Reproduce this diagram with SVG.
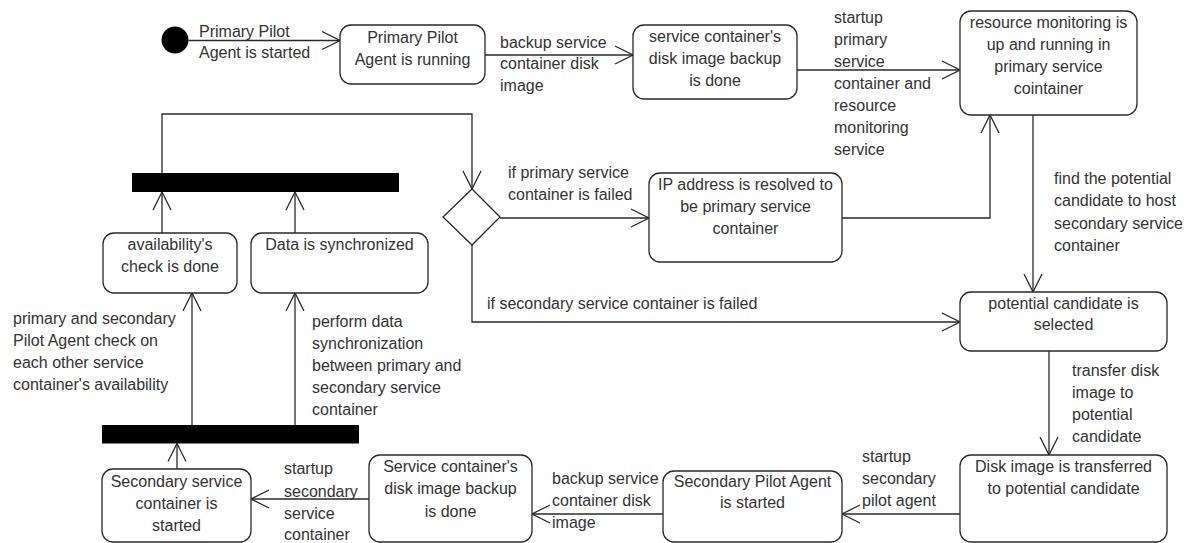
<svg xmlns="http://www.w3.org/2000/svg" width="1189" height="543" viewBox="0 0 1189 543">
<style>
.n{fill:#fff;stroke:#2a2a2a;stroke-width:1.3}
.bar{fill:#000;stroke:none}
.e{fill:none;stroke:#2a2a2a;stroke-width:1.3}
text{font-family:"Liberation Sans",Arial,sans-serif;font-size:16px;fill:#333}
.c{text-anchor:middle}
</style>
<defs>
<marker id="arr" viewBox="0 0 20 20" refX="19" refY="10" markerWidth="20" markerHeight="20" markerUnits="userSpaceOnUse" orient="auto">
<path d="M1,1 L19,10 L1,19" fill="none" stroke="#2a2a2a" stroke-width="1.3"/>
</marker>
</defs>
<rect width="1189" height="543" fill="#fff"/>

<g id="connectors">
<line class="e" x1="188.5" y1="40.5" x2="340" y2="40.5" marker-end="url(#arr)"/>
<line class="e" x1="485" y1="55" x2="633" y2="55" marker-end="url(#arr)"/>
<line class="e" x1="797" y1="70" x2="960" y2="70" marker-end="url(#arr)"/>
<line class="e" x1="1033" y1="115" x2="1033" y2="292" marker-end="url(#arr)"/>
<line class="e" x1="1049" y1="351" x2="1049" y2="455" marker-end="url(#arr)"/>
<line class="e" x1="960" y1="514" x2="842" y2="514" marker-end="url(#arr)"/>
<line class="e" x1="663" y1="514" x2="532" y2="514" marker-end="url(#arr)"/>
<line class="e" x1="369" y1="499" x2="251" y2="499" marker-end="url(#arr)"/>
<line class="e" x1="177" y1="469" x2="177" y2="443.5" marker-end="url(#arr)"/>
<line class="e" x1="192" y1="425" x2="192" y2="293" marker-end="url(#arr)"/>
<line class="e" x1="295" y1="425" x2="295" y2="293" marker-end="url(#arr)"/>
<line class="e" x1="162" y1="233" x2="162" y2="192" marker-end="url(#arr)"/>
<line class="e" x1="295" y1="233" x2="295" y2="192" marker-end="url(#arr)"/>
<polyline class="e" points="162,173 162,114 472,114 472,189" marker-end="url(#arr)"/>
<line class="e" x1="500" y1="218" x2="649" y2="218" marker-end="url(#arr)"/>
<polyline class="e" points="842,218 990,218 990,115" marker-end="url(#arr)"/>
<polyline class="e" points="472,245 472,322 960,322" marker-end="url(#arr)"/>

<text x="199" y="37">Primary Pilot</text>
<text x="199" y="58">Agent is started</text>
<text x="500" y="48">backup service</text>
<text x="500" y="69">container disk</text>
<text x="500" y="91">image</text>
<text x="834" y="23">startup</text>
<text x="834" y="45">primary</text>
<text x="834" y="67">service</text>
<text x="834" y="89">container and</text>
<text x="834" y="111">resource</text>
<text x="834" y="133">monitoring</text>
<text x="834" y="155">service</text>
<text x="1054" y="184">find the potential</text>
<text x="1054" y="206">candidate to host</text>
<text x="1054" y="229">secondary service</text>
<text x="1054" y="251">container</text>
<text x="1072" y="376">transfer disk</text>
<text x="1072" y="398">image to</text>
<text x="1072" y="420">potential</text>
<text x="1072" y="442">candidate</text>
<text x="862" y="462">startup</text>
<text x="862" y="484">secondary</text>
<text x="862" y="506">pilot agent</text>
<text x="552" y="484">backup service</text>
<text x="552" y="506">container disk</text>
<text x="552" y="528">image</text>
<text x="284" y="474">startup</text>
<text x="284" y="497">secondary</text>
<text x="284" y="519">service</text>
<text x="284" y="540">container</text>
<text x="13" y="324">primary and secondary</text>
<text x="13" y="346">Pilot Agent check on</text>
<text x="13" y="368">each other service</text>
<text x="13" y="390">container's availability</text>
<text x="312" y="327">perform data</text>
<text x="312" y="349">synchronization</text>
<text x="312" y="371">between primary and</text>
<text x="312" y="393">secondary service</text>
<text x="312" y="415">container</text>
<text x="508" y="178">if primary service</text>
<text x="508" y="200">container is failed</text>
<text x="487" y="309">if secondary service container is failed</text>
</g>

<g id="start"><circle cx="175" cy="40" r="13.5" fill="#000"/></g>

<g id="n-primary-running">
<rect class="n" x="340" y="25" width="145" height="59" rx="11"/>
<text class="c" x="412.5" y="43">Primary Pilot</text>
<text class="c" x="412.5" y="65">Agent is running</text>
</g>

<g id="n-backup-done">
<rect class="n" x="633" y="25" width="164" height="74" rx="11"/>
<text class="c" x="715" y="42">service container's</text>
<text class="c" x="715" y="64">disk image backup</text>
<text class="c" x="715" y="86">is done</text>
</g>

<g id="n-monitoring">
<rect class="n" x="960" y="11" width="177" height="104" rx="11"/>
<text class="c" x="1048.5" y="28">resource monitoring is</text>
<text class="c" x="1048.5" y="50">up and running in</text>
<text class="c" x="1048.5" y="72">primary service</text>
<text class="c" x="1048.5" y="94">cointainer</text>
</g>

<g id="n-candidate">
<rect class="n" x="960" y="292" width="207" height="59" rx="11"/>
<text class="c" x="1063.5" y="309">potential candidate is</text>
<text class="c" x="1063.5" y="330">selected</text>
</g>

<g id="n-transferred">
<rect class="n" x="960" y="455" width="207" height="87" rx="11"/>
<text class="c" x="1063.5" y="472">Disk image is transferred</text>
<text class="c" x="1063.5" y="494">to potential candidate</text>
</g>

<g id="n-secondary-pilot">
<rect class="n" x="663" y="471" width="179" height="71" rx="11"/>
<text class="c" x="752.5" y="487">Secondary Pilot Agent</text>
<text class="c" x="752.5" y="508">is started</text>
</g>

<g id="n-backup-done-2">
<rect class="n" x="369" y="455" width="163" height="87" rx="11"/>
<text class="c" x="450.5" y="472">Service container's</text>
<text class="c" x="450.5" y="494">disk image backup</text>
<text class="c" x="450.5" y="517">is done</text>
</g>

<g id="n-secondary-started">
<rect class="n" x="102" y="469" width="149" height="73" rx="11"/>
<text class="c" x="176.5" y="487">Secondary service</text>
<text class="c" x="176.5" y="509">container is</text>
<text class="c" x="176.5" y="531">started</text>
</g>

<g id="fork"><rect class="bar" x="102" y="425" width="257" height="18.5"/></g>
<g id="join"><rect class="bar" x="132" y="173" width="267" height="19"/></g>

<g id="n-availability">
<rect class="n" x="103" y="233" width="134" height="60" rx="11"/>
<text class="c" x="170" y="250">availability's</text>
<text class="c" x="170" y="272">check is done</text>
</g>

<g id="n-synchronized">
<rect class="n" x="251" y="233" width="177" height="60" rx="11"/>
<text class="c" x="339.5" y="250">Data is synchronized</text>
</g>

<g id="decision"><polygon class="n" points="472,189 500,217 472,245 443,217"/></g>

<g id="n-ip">
<rect class="n" x="649" y="173" width="193" height="89" rx="11"/>
<text class="c" x="745.5" y="190">IP address is resolved to</text>
<text class="c" x="745.5" y="212">be primary service</text>
<text class="c" x="745.5" y="234">container</text>
</g>
</svg>
